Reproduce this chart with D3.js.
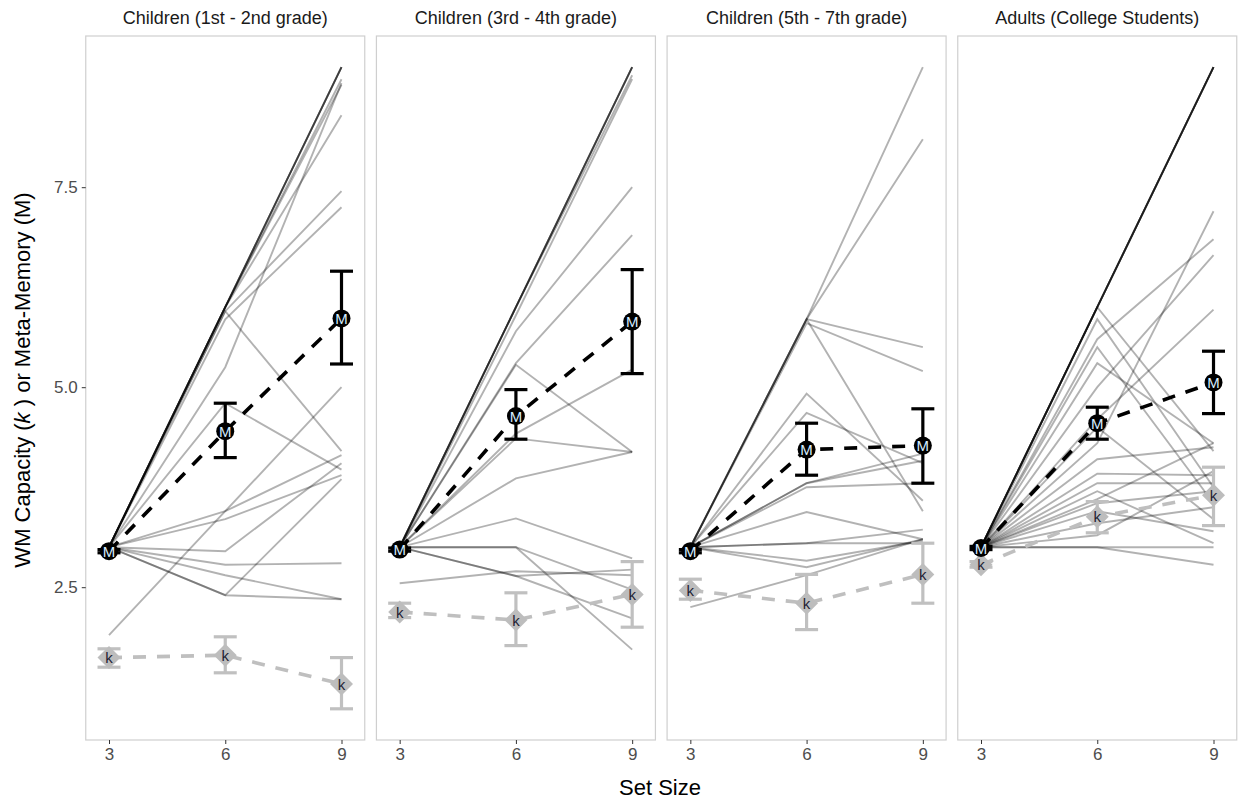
<!DOCTYPE html>
<html>
<head>
<meta charset="utf-8">
<script src="https://cdn.jsdelivr.net/npm/d3@7"></script>
<style>
body { margin: 0; background: #fff; font-family: "Liberation Sans", Arial, sans-serif; }
</style>
</head>
<body>
<script>
//panel titles and x categories
var groups = ["Children (1st - 2nd grade)", "Children (3rd - 4th grade)",
              "Children (5th - 7th grade)", "Adults (College Students)"];
var setSizes = [3, 6, 9];
var yTicks = [2.5, 5.0, 7.5];

//individual participants: value at set size 3, 6, 9
var subjectsG1 = [
  [3, 6, 9], [3, 6, 9], [3, 6, 9], [3, 6, 9], [3, 6, 8.85], [3, 6, 8.78], [3, 6, 8.4],
  [3, 5.95, 7.45], [3, 5.85, 7.25], [3, 5.25, 8.8], [3, 5.95, 4.2], [3, 4.8, 3.97],
  [1.9, 3.45, 5.0], [3, 3.45, 4.15], [3, 3.35, 3.9], [3, 2.95, 4.05], [3, 2.4, 3.85],
  [3, 2.65, 2.35], [3, 2.4, 2.35], [3, 2.78, 2.8]
];
var subjectsG2 = [
  [3, 6, 9], [3, 6, 9], [3, 6, 9], [3, 6, 9], [3, 6, 8.9], [3, 5.9, 8.85], [3, 5.7, 7.5],
  [3, 5.3, 6.9], [3, 5.28, 4.19], [3, 4.42, 5.22], [3, 4.36, 4.19], [3, 3.86, 4.19],
  [3, 3.36, 2.86], [3, 3.0, 2.47], [3, 3.0, 1.72], [3, 2.64, 2.72], [2.55, 2.7, 2.65],
  [3, 2.64, 2.11]
];
var subjectsG3 = [
  [3, 5.85, 9.0], [3, 5.85, 8.1], [3, 5.85, 5.5], [3, 5.8, 5.2], [3, 5.85, 3.45],
  [3, 4.92, 3.58], [3, 4.68, 4.05], [3, 3.8, 4.17], [3, 3.8, 4.08], [3, 3.75, 3.8],
  [3, 3.44, 3.1], [3, 3.05, 3.22], [3, 2.83, 3.08], [3, 2.75, 3.1], [2.25, 2.65, 3.1],
  [3, 3.05, 3.05]
];
var subjectsG4 = [
  [3, 6, 9], [3, 6, 9], [3, 6, 9], [3, 6, 9], [3, 6, 9], [3, 6, 9],
  [3, 6, 4.2], [3, 5.85, 3.75], [3, 4.3, 7.2], [3, 5.6, 6.85], [3, 5.0, 6.65],
  [3, 4.6, 5.97], [3, 5.5, 3.55], [3, 5.3, 4.3], [3, 4.5, 3.35], [3, 4.1, 4.25],
  [3, 3.92, 3.9], [3, 3.8, 3.8], [3, 3.6, 4.3], [3, 3.55, 3.7], [3, 3.45, 3.2],
  [3, 3.3, 3.5], [3, 3.15, 3.95], [3, 3.0, 3.0], [3, 3.0, 2.78], [3, 3.7, 3.05]
];
var subjects = [subjectsG1, subjectsG2, subjectsG3, subjectsG4];

//group means and error bars, meta-memory (M)
var meanM = [[2.95, 4.45, 5.86], [2.97, 4.64, 5.82], [2.95, 4.22, 4.27], [2.99, 4.55, 5.06]];
var lowM  = [[2.93, 4.12, 5.29], [2.95, 4.35, 5.17], [2.93, 3.90, 3.80], [2.97, 4.35, 4.67]];
var highM = [[2.97, 4.80, 6.45], [2.99, 4.97, 6.47], [2.97, 4.55, 4.73], [3.01, 4.75, 5.45]];

//group means and error bars, WM capacity (k)
var meanK = [[1.62, 1.65, 1.29], [2.19, 2.09, 2.41], [2.46, 2.30, 2.66], [2.78, 3.38, 3.65]];
var lowK  = [[1.50, 1.43, 0.98], [2.12, 1.77, 2.00], [2.35, 1.97, 2.30], [2.75, 3.18, 3.27]];
var highK = [[1.73, 1.88, 1.62], [2.30, 2.43, 2.82], [2.60, 2.66, 3.05], [2.82, 3.57, 4.00]];

var width = 1238,
    height = 801;

var svg = d3.select("body")
    .append("svg")
    .attr("width", width)
    .attr("height", height);

var pw = 279, plotTop = 36, plotBottom = 740,
    left0 = 85.75, step = 290.67;

var x = d3.scaleLinear().domain([2.4, 9.6]).range([0, pw]);
var y = d3.scaleLinear().domain([0.59, 9.39]).range([plotBottom, plotTop]);

var line = d3.line()
    .x(function(d, i){ return x(setSizes[i]); })
    .y(function(d){ return y(d); });

function errorBars(g, lows, highs, color){
    setSizes.forEach(function(s, i){
        var cx = x(s);
        g.append("line").attr("x1", cx).attr("x2", cx)
            .attr("y1", y(lows[i])).attr("y2", y(highs[i]))
            .attr("stroke", color).attr("stroke-width", 3.2);
        [lows[i], highs[i]].forEach(function(v){
            g.append("line").attr("x1", cx - 11.5).attr("x2", cx + 11.5)
                .attr("y1", y(v)).attr("y2", y(v))
                .attr("stroke", color).attr("stroke-width", 3.2);
        });
    });
}

groups.forEach(function(name, gi){
    var panel = svg.append("g")
        .attr("transform", "translate(" + (left0 + gi * step) + ",0)");

    //participant lines
    panel.selectAll(".subj")
        .data(subjects[gi])
        .enter()
        .append("path")
        .attr("class", "subj")
        .attr("d", line)
        .attr("fill", "none")
        .attr("stroke", "#000")
        .attr("stroke-opacity", 0.3)
        .attr("stroke-width", 1.9);

    //k: dashed mean line, error bars, diamonds
    var kg = panel.append("g");
    kg.append("path").attr("d", line(meanK[gi]))
        .attr("fill", "none").attr("stroke", "#bfbfbf")
        .attr("stroke-width", 3.6).attr("stroke-dasharray", "13,11");
    errorBars(kg, lowK[gi], highK[gi], "#c0c0c0");
    kg.selectAll(".kpt")
        .data(meanK[gi])
        .enter()
        .append("path")
        .attr("class", "kpt")
        .attr("d", "M0,-11.5L11.5,0L0,11.5L-11.5,0Z")
        .attr("transform", function(d, i){ return "translate(" + x(setSizes[i]) + "," + y(d) + ")"; })
        .attr("fill", "#bdbdbd");
    kg.selectAll(".klab")
        .data(meanK[gi])
        .enter()
        .append("text")
        .attr("x", function(d, i){ return x(setSizes[i]); })
        .attr("y", function(d){ return y(d) + 5.5; })
        .attr("text-anchor", "middle")
        .style("font-size", "15px")
        .attr("fill", "#1d1d33")
        .text("k");

    //M: dashed mean line, error bars, circles
    var mg = panel.append("g");
    mg.append("path").attr("d", line(meanM[gi]))
        .attr("fill", "none").attr("stroke", "#000")
        .attr("stroke-width", 3.6).attr("stroke-dasharray", "13,11");
    errorBars(mg, lowM[gi], highM[gi], "#000");
    mg.selectAll(".mpt")
        .data(meanM[gi])
        .enter()
        .append("circle")
        .attr("class", "mpt")
        .attr("cx", function(d, i){ return x(setSizes[i]); })
        .attr("cy", function(d){ return y(d); })
        .attr("r", 9)
        .attr("fill", "#000");
    mg.selectAll(".mlab")
        .data(meanM[gi])
        .enter()
        .append("text")
        .attr("x", function(d, i){ return x(setSizes[i]); })
        .attr("y", function(d){ return y(d) + 5.5; })
        .attr("text-anchor", "middle")
        .style("font-size", "15px")
        .attr("fill", "#d6ecff")
        .text("M");

    //panel border
    panel.append("rect")
        .attr("x", 0).attr("y", plotTop)
        .attr("width", pw).attr("height", plotBottom - plotTop)
        .attr("fill", "none")
        .attr("stroke", "#cfcfcf")
        .attr("stroke-width", 1.2);

    //strip title
    panel.append("text")
        .attr("x", pw / 2).attr("y", 24)
        .attr("text-anchor", "middle")
        .style("font-size", "18px")
        .attr("fill", "#1a1a1a")
        .text(name);

    //x axis
    var xa = panel.append("g")
        .attr("transform", "translate(0," + plotBottom + ")")
        .call(d3.axisBottom(x).tickValues(setSizes).tickSize(4).tickPadding(4));
    xa.select(".domain").remove();
    xa.selectAll("line").attr("stroke", "#333");
    xa.selectAll("text").style("font-size", "17px").attr("fill", "#4d4d4d")
        .style("font-family", "Liberation Sans, Arial, sans-serif");

    //y axis only on the first panel
    if (gi === 0){
        var ya = panel.append("g")
            .call(d3.axisLeft(y).tickValues(yTicks).tickFormat(d3.format(".1f")).tickSize(4).tickPadding(4));
        ya.select(".domain").remove();
        ya.selectAll("line").attr("stroke", "#333");
        ya.selectAll("text").style("font-size", "17px").attr("fill", "#4d4d4d")
            .style("font-family", "Liberation Sans, Arial, sans-serif");
    }
});

//axis titles
svg.append("text")
    .attr("x", 660).attr("y", 795)
    .attr("text-anchor", "middle")
    .style("font-size", "22px")
    .attr("fill", "#000")
    .text("Set Size");

var yt = svg.append("text")
    .attr("transform", "translate(30,380) rotate(-90)")
    .attr("text-anchor", "middle")
    .style("font-size", "22px")
    .attr("fill", "#000");
yt.append("tspan").text("WM Capacity (");
yt.append("tspan").style("font-style", "italic").text("k");
yt.append("tspan").text(" ) or Meta-Memory (M)");
</script>
</body>
</html>
